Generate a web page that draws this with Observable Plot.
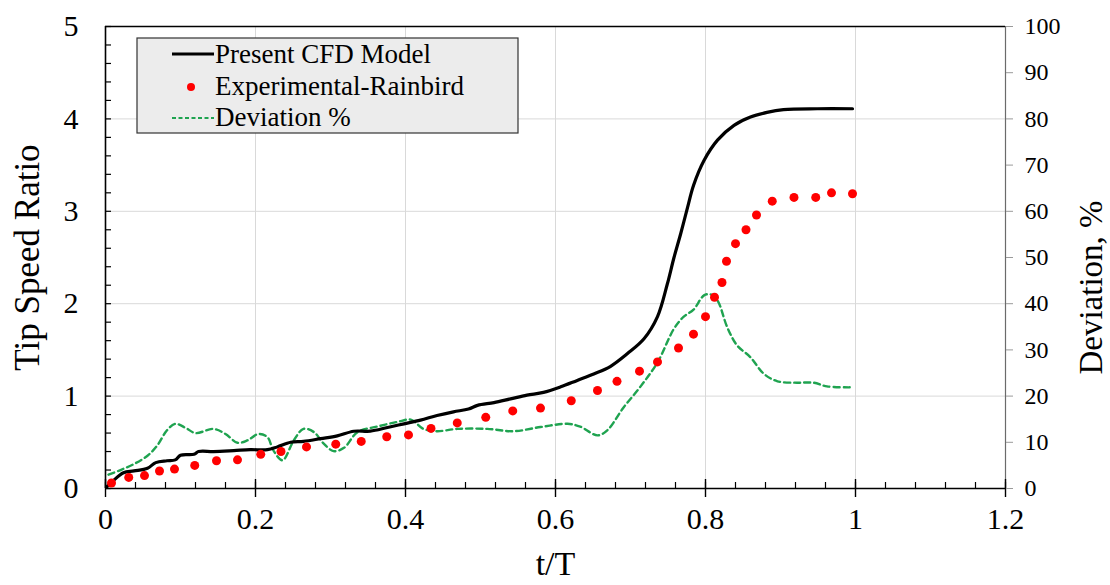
<!DOCTYPE html>
<html><head><meta charset="utf-8">
<script src="https://cdn.jsdelivr.net/npm/d3@7"></script>
<script src="https://cdn.jsdelivr.net/npm/@observablehq/plot@0.6"></script>
<style>
html,body{margin:0;padding:0;background:#fff;}
#chart{position:relative;width:1110px;height:585px;}
</style></head><body><div id="chart"></div>
<script>
// ---- data ----
const cfdT   = [0.002,0.011,0.024,0.038,0.056,0.067,0.082,0.093,0.100,0.118,0.124,0.144,0.171,0.193,0.216,0.229,0.247,0.264,0.287,0.309,0.331,0.353,0.376,0.398,0.420,0.442,0.464,0.484,0.496,0.518,0.540,0.562,0.584,0.607,0.629,0.651,0.673,0.696,0.718,0.736,0.749,0.758,0.767,0.776,0.784,0.798,0.816,0.838,0.860,0.882,0.904,0.949,0.996];
const cfdTSR = [0.02,0.09,0.17,0.19,0.22,0.28,0.30,0.31,0.36,0.37,0.40,0.40,0.41,0.42,0.42,0.45,0.50,0.51,0.54,0.57,0.62,0.62,0.66,0.70,0.74,0.79,0.83,0.86,0.90,0.93,0.97,1.01,1.04,1.10,1.17,1.24,1.32,1.46,1.62,1.86,2.21,2.50,2.76,3.04,3.28,3.55,3.77,3.93,4.02,4.07,4.10,4.11,4.11];

const expT   = [0.008,0.031,0.052,0.072,0.092,0.119,0.148,0.176,0.207,0.234,0.268,0.307,0.341,0.375,0.404,0.434,0.469,0.507,0.543,0.580,0.621,0.656,0.682,0.712,0.736,0.764,0.784,0.800,0.812,0.822,0.828,0.840,0.854,0.868,0.889,0.918,0.947,0.968,0.996];
const expTSR = [0.06,0.12,0.14,0.19,0.21,0.25,0.30,0.31,0.37,0.40,0.45,0.48,0.51,0.56,0.58,0.65,0.71,0.77,0.84,0.87,0.95,1.06,1.16,1.27,1.37,1.52,1.67,1.86,2.07,2.23,2.46,2.65,2.80,2.96,3.11,3.15,3.15,3.20,3.19];

const devT   = [0.004,0.02,0.038,0.056,0.069,0.082,0.093,0.107,0.12,0.144,0.16,0.176,0.189,0.204,0.216,0.224,0.236,0.251,0.264,0.278,0.291,0.304,0.318,0.336,0.362,0.389,0.407,0.424,0.442,0.469,0.509,0.544,0.58,0.616,0.633,0.656,0.669,0.691,0.713,0.736,0.758,0.771,0.784,0.798,0.807,0.816,0.829,0.842,0.86,0.878,0.896,0.922,0.944,0.962,0.993];
const devPct = [3.0,4.0,5.3,7.1,9.3,12.6,14.0,13.1,12.0,12.9,11.8,9.9,10.4,11.8,11.1,8.2,6.1,10.4,12.9,12.2,9.7,8.1,8.8,12.2,13.4,14.4,14.9,12.9,12.4,12.9,12.9,12.4,13.3,14.0,13.4,11.5,12.6,17.6,22.0,27.3,34.6,37.2,38.7,41.8,42.0,40.7,34.9,31.0,28.4,24.8,23.2,22.9,22.9,22.1,21.9];

const xTicks   = [0,0.2,0.4,0.6,0.8,1,1.2];
const xTickLabels = ["0","0.2","0.4","0.6","0.8","1","1.2"];
const yTicks   = [0,1,2,3,4,5];
const devTicks = [0,10,20,30,40,50,60,70,80,90,100];
const legendLabels = ["Present CFD Model","Experimental-Rainbird","Deviation %"];
const xTitle = "t/T", yTitle = "Tip Speed Ratio", y2Title = "Deviation, %";

// ---- build ----
const devScale = 5/100; // deviation axis 0..100 maps onto TSR axis 0..5
const cfd = cfdT.map((t,i)=>({t, v:cfdTSR[i]}));
const exp = expT.map((t,i)=>({t, v:expTSR[i]}));
const dev = devT.map((t,i)=>({t, v:devPct[i]*devScale}));

const W=1110,H=585,mL=105,mR=105,mT=26,mB=97;
const innerW=W-mL-mR, innerH=H-mT-mB;
const minorX=d3.range(0,31).map(i=>i*0.04);
const minorY=d3.range(0,26).map(i=>i*0.2);
const GREEN="#1fa350";
const FONT="'Liberation Serif','Times New Roman',serif";

const plot = Plot.plot({
  width:W,height:H,marginLeft:mL,marginRight:mR,marginTop:mT,marginBottom:mB,
  style:{fontFamily:FONT, background:"#fff", color:"#000", overflow:"visible"},
  x:{domain:[0,1.2]}, y:{domain:[0,5]},
  marks:[
    Plot.gridX(xTicks.slice(1),{stroke:"#d9d9d9",strokeOpacity:1,strokeWidth:1}),
    Plot.gridY(yTicks.slice(1,-1),{stroke:"#d9d9d9",strokeOpacity:1,strokeWidth:1}),
    Plot.ruleX([1.2],{stroke:"#6b6b6b",strokeWidth:1.2}),
    Plot.ruleY([5],{stroke:"#000",strokeWidth:1.6}),
    Plot.ruleY([0],{stroke:"#000",strokeWidth:1.6}),
    Plot.ruleX([0],{stroke:"#000",strokeWidth:1.6}),
    Plot.tickY(minorY,{y:d=>d, insetRight:innerW-6, stroke:"#000", strokeWidth:1.2}),
    Plot.tickX(minorX,{x:d=>d, insetTop:innerH-6, stroke:"#000", strokeWidth:1.2}),
    Plot.tickX(xTicks,{x:d=>d, insetTop:innerH-9, insetBottom:-9, stroke:"#000", strokeWidth:1.4}),
    Plot.axisX(xTicks,{tickSize:0,tickPadding:19,fontSize:30,label:null,tickFormat:(d,i)=>xTickLabels[i]}),
    Plot.axisY(yTicks,{anchor:"left",tickSize:0,tickPadding:27,fontSize:30,label:null,tickFormat:d=>String(d)}),
    Plot.axisY(devTicks.map(d=>d*devScale),{anchor:"right",tickSize:7,tickPadding:12,stroke:"#9a9a9a",fontSize:24,label:null,tickFormat:d=>String(Math.round(d/devScale))}),
    Plot.line(dev,{x:"t",y:"v",stroke:GREEN,strokeWidth:2.4,strokeDasharray:"6,4",curve:"catmull-rom"}),
    Plot.line(cfd,{x:"t",y:"v",stroke:"#000",strokeWidth:3.2,curve:"catmull-rom"}),
    Plot.dot(exp,{x:"t",y:"v",r:4.5,fill:"#ff0000",stroke:"none"}),
    Plot.text([xTitle],{frameAnchor:"bottom",dy:86,fontSize:34,text:d=>d,textAnchor:"middle"}),
    Plot.text([yTitle],{frameAnchor:"left",dx:-78,rotate:-90,fontSize:35,text:d=>d,textAnchor:"middle"}),
    Plot.text([y2Title],{frameAnchor:"right",dx:86,dy:30,rotate:-90,fontSize:33,text:d=>d,textAnchor:"middle"})
  ]
});
document.getElementById("chart").appendChild(plot);

// legend (inside plot area, top-left)
const svg = d3.select(plot);
const lg = svg.append("g").attr("font-family",FONT).attr("text-anchor","start");
lg.append("rect").attr("x",137).attr("y",38).attr("width",381).attr("height",95)
  .attr("fill","#ececec").attr("stroke","#333").attr("stroke-width",1.2);
lg.append("line").attr("x1",172).attr("x2",214).attr("y1",54).attr("y2",54).attr("stroke","#000").attr("stroke-width",3);
lg.append("circle").attr("cx",191).attr("cy",87).attr("r",4).attr("fill","#ff0000");
lg.append("line").attr("x1",172).attr("x2",214).attr("y1",118).attr("y2",118).attr("stroke",GREEN).attr("stroke-width",2.2).attr("stroke-dasharray","4,2.5");
[63,95,126].forEach((y,i)=>{
  lg.append("text").attr("x",215).attr("y",y).attr("font-size",27).attr("fill","#000").attr("text-anchor","start").text(legendLabels[i]);
});
</script></body></html>
